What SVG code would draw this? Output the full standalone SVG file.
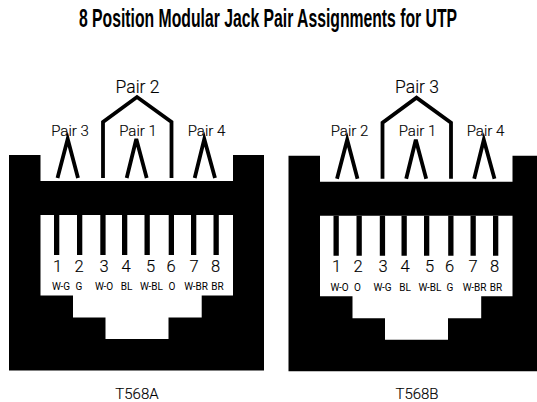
<svg xmlns="http://www.w3.org/2000/svg" xmlns:xlink="http://www.w3.org/1999/xlink" width="537" height="402" viewBox="0 0 537 402">
<style>
text{font-family:"Roboto","Liberation Sans",sans-serif;font-weight:300;fill:#000;text-anchor:middle;stroke:#000;stroke-width:0.15px}
.title{font-family:"Liberation Sans",Arial,sans-serif;font-weight:700;font-size:25px;text-anchor:start;stroke:none}
.big{font-size:17.500px}
.mid{font-size:15px}
.num{font-size:16.500px}
.col{font-size:10px;font-weight:400;stroke:none}
.cap{font-size:15px}
.wire{fill:none;stroke:#000;stroke-width:3.800;stroke-linejoin:miter}
</style>
<defs>
<g id="jack">
<path fill="#000" d="M9 155H40.500V181H233V155H264V370.500H9Z"/>
<path fill="#fff" d="M40.500 215H233V295.500H201.700V317.500H168.500V339H105.500V317.500H73V295.500H40.500Z"/>
<path fill="#000" d="M54 215h5.300v40h-5.300zM77 215h5.300v40h-5.300zM100.300 215h5.300v40h-5.300zM122 215h5.300v40h-5.300zM144.500 215h5.300v40h-5.300zM168.700 215h5.300v40h-5.300zM191 215h5.300v40h-5.300zM213.500 215h5.300v40h-5.300z"/>
</g>
<g id="wires">
<path class="wire" d="M57.500 178L67.700 139L78 178"/>
<path class="wire" d="M126.700 178L136.300 139L146.700 178"/>
<path class="wire" d="M194.700 178L204.300 139L215 178"/>
<path class="wire" d="M103 178V122L137 97L171.500 122V178"/>
</g>
</defs>
<text class="title" transform="translate(79 26.500) scale(0.63 1)">8 Position Modular Jack Pair Assignments for UTP</text>
<g id="jack-t568a">
<use xlink:href="#jack" href="#jack"/>
<text class="big" x="137.500" y="92.500">Pair 2</text>
<text class="mid" x="70" y="135.500">Pair 3</text>
<text class="mid" x="138" y="135.500">Pair 1</text>
<text class="mid" x="206.500" y="135.500">Pair 4</text>
<g>
<text class="num" x="57.500" y="271.500">1</text><text class="num" x="79" y="271.500">2</text><text class="num" x="104" y="271.500">3</text><text class="num" x="126" y="271.500">4</text><text class="num" x="150.500" y="271.500">5</text><text class="num" x="171" y="271.500">6</text><text class="num" x="194" y="271.500">7</text><text class="num" x="215.500" y="271.500">8</text>
</g>
<g>
<text class="col" x="61" y="290">W-G</text><text class="col" x="79" y="290">G</text><text class="col" x="104" y="290">W-O</text><text class="col" x="126.500" y="290">BL</text><text class="col" x="151.500" y="290">W-BL</text><text class="col" x="172" y="290">O</text><text class="col" x="196" y="290">W-BR</text><text class="col" x="217.500" y="290">BR</text>
</g>
<text class="cap" x="137" y="398.500">T568A</text>
</g>
<g id="jack-t568b">
<use xlink:href="#jack" href="#jack" transform="translate(279.500 0.700)"/>
<text class="big" x="417" y="93">Pair 3</text>
<text class="mid" x="349.500" y="136">Pair 2</text>
<text class="mid" x="417.500" y="136">Pair 1</text>
<text class="mid" x="485.500" y="136">Pair 4</text>
<g>
<text class="num" x="336.500" y="272">1</text><text class="num" x="358" y="272">2</text><text class="num" x="383" y="272">3</text><text class="num" x="405" y="272">4</text><text class="num" x="429.500" y="272">5</text><text class="num" x="449.500" y="272">6</text><text class="num" x="473" y="272">7</text><text class="num" x="494.500" y="272">8</text>
</g>
<g>
<text class="col" x="339.500" y="290.500">W-O</text><text class="col" x="357.500" y="290.500">O</text><text class="col" x="382.500" y="290.500">W-G</text><text class="col" x="405" y="290.500">BL</text><text class="col" x="430" y="290.500">W-BL</text><text class="col" x="450" y="290.500">G</text><text class="col" x="474.500" y="290.500">W-BR</text><text class="col" x="496" y="290.500">BR</text>
</g>
<text class="cap" x="417" y="399">T568B</text>
</g>
<g id="connectors">
<use xlink:href="#wires" href="#wires"/>
<use xlink:href="#wires" href="#wires" transform="translate(279.500 0.700)"/>
</g>
</svg>
